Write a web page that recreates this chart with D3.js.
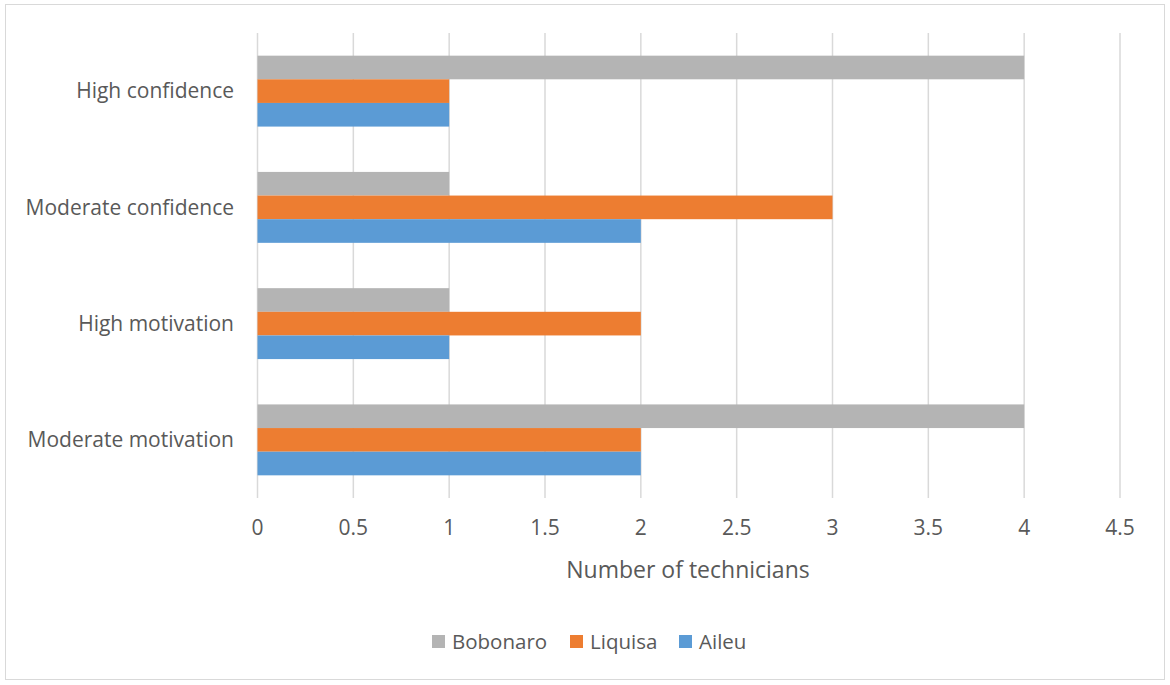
<!DOCTYPE html>
<html><head><meta charset="utf-8">
<script src="https://cdn.jsdelivr.net/npm/d3@7"></script>
<style>body{margin:0;background:#fff;}svg{display:block;font-family:"Open Sans",sans-serif;}</style>
</head><body><svg id="c" width="1170" height="685"></svg>
<script>
const categories = ["High confidence","Moderate confidence","High motivation","Moderate motivation"];
const seriesNames = ["Bobonaro","Liquisa","Aileu"];
const bobonaro = [4,1,1,4];
const liquisa = [1,3,2,2];
const aileu = [1,2,1,2];
const xTicks = [0,0.5,1,1.5,2,2.5,3,3.5,4,4.5];
const colors = ["#B4B4B4","#ED7D31","#5B9BD5"];
const seriesVals = [bobonaro, liquisa, aileu];

const svg = d3.select("#c");
svg.append("rect").attr("x",5.5).attr("y",4.5).attr("width",1159).attr("height",675)
  .attr("fill","#fff").attr("stroke","#d9d9d9").attr("stroke-width",1);

const x = d3.scaleLinear().domain([0,4.5]).range([257.5,1120]);
const y = d3.scaleBand().domain(categories).range([33,498]).paddingInner(0.39).paddingOuter(0.195);
const ySub = d3.scaleBand().domain(seriesNames).range([0,y.bandwidth()]);

// gridlines
svg.append("g").selectAll("line").data(xTicks).join("line")
  .attr("x1",d=>x(d)).attr("x2",d=>x(d)).attr("y1",33).attr("y2",498)
  .attr("stroke","#d9d9d9").attr("stroke-width",1.5);

// bars
const g = svg.append("g");
seriesNames.forEach((s,si)=>{
  g.append("g").selectAll("rect").data(categories).join("rect")
    .attr("x",x(0)).attr("y",(c)=>y(c)+ySub(s))
    .attr("width",(c,i)=>x(seriesVals[si][i])-x(0))
    .attr("height",ySub.bandwidth())
    .attr("fill",colors[si]);
});

// category labels
svg.append("g").selectAll("text").data(categories).join("text")
  .attr("x",234).attr("y",c=>y(c)+y.bandwidth()/2).attr("dy","0.35em")
  .attr("text-anchor","end").attr("font-size",21).attr("fill","#595959").text(c=>c);

// x tick labels
svg.append("g").selectAll("text").data(xTicks).join("text")
  .attr("x",d=>x(d)).attr("y",528).attr("dy","0.35em")
  .attr("text-anchor","middle").attr("font-size",21).attr("fill","#595959").text(d=>d);

// axis title
svg.append("text").attr("x",688).attr("y",570).attr("dy","0.35em").attr("text-anchor","middle")
  .attr("font-size",23).attr("fill","#595959").text("Number of technicians");

// legend
const legX = [432,570,679];
const lg = svg.append("g");
seriesNames.forEach((s,i)=>{
  lg.append("rect").attr("x",legX[i]).attr("y",635).attr("width",13).attr("height",13).attr("fill",colors[i]);
  lg.append("text").attr("x",legX[i]+20).attr("y",641.5).attr("dy","0.35em").attr("font-size",20.5)
    .attr("fill","#595959").text(s);
});
</script></body></html>
